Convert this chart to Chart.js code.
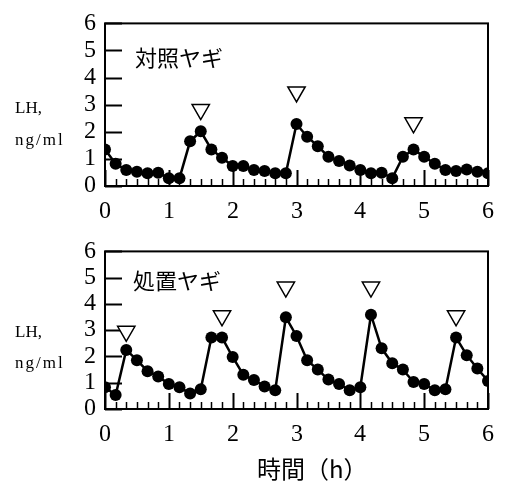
<!DOCTYPE html>
<html>
<head>
<meta charset="utf-8">
<script src="https://cdn.jsdelivr.net/npm/chart.js@4"></script>
<style>
  @font-face { font-family: "TickSerif"; src: local("Liberation Serif"), local("LiberationSerif"), local("LiberationSerif-Regular"), local("Times New Roman"); }
  body { margin: 0; background: #fff; }
  #wrap { position: relative; width: 505px; height: 484px; }
  canvas { position: absolute; left: 0; }
  .lab { position: absolute; font-family: "Liberation Serif", "Times New Roman", serif; font-size: 17px; color: #000; line-height: 17px; }
  .unit { letter-spacing: 2px; }
  #xtitle { position: absolute; left: 257px; top: 455px; font-family: "Noto Sans CJK JP", sans-serif; font-size: 24px; line-height: 26px; color: #000; }
</style>
</head>
<body>
<div id="wrap">
  <canvas id="topChart" width="505" height="228" style="top:0"></canvas>
  <canvas id="bottomChart" width="505" height="256" style="top:228px"></canvas>
  <div class="lab" style="left:15px; top:99px">LH,</div>
  <div class="lab unit" style="left:15px; top:131px">ng/ml</div>
  <div class="lab" style="left:15px; top:323px">LH,</div>
  <div class="lab unit" style="left:15px; top:354px">ng/ml</div>
  <div id="xtitle">時間（h）</div>
</div>
<script>
// sampling times (minutes), every 10 min
const sampleMinutes = [0, 10, 20, 30, 40, 50, 60, 70, 80, 90, 100, 110, 120, 130, 140, 150, 160, 170, 180,
  190, 200, 210, 220, 230, 240, 250, 260, 270, 280, 290, 300, 310, 320, 330, 340, 350, 360];

// 対照ヤギ LH (ng/ml)
const controlLH = [1.35, 0.82, 0.59, 0.53, 0.47, 0.49, 0.29, 0.29, 1.65, 2.02, 1.35, 1.04, 0.74, 0.74,
  0.59, 0.55, 0.47, 0.47, 2.29, 1.82, 1.47, 1.08, 0.92, 0.76, 0.59, 0.47, 0.49, 0.29, 1.08, 1.35,
  1.08, 0.82, 0.59, 0.55, 0.61, 0.53, 0.47];

// 処置ヤギ LH (ng/ml)
const treatedLH = [0.83, 0.53, 2.25, 1.86, 1.44, 1.24, 0.95, 0.83, 0.59, 0.75, 2.72, 2.72, 1.98, 1.30,
  1.10, 0.86, 0.71, 3.49, 2.78, 1.86, 1.50, 1.12, 0.95, 0.71, 0.83, 3.59, 2.31, 1.74, 1.50, 1.03,
  0.95, 0.71, 0.75, 2.72, 2.05, 1.54, 1.07];

// pulse markers (▽)
const controlPulseMin = [90, 180, 290];
const controlPulseY = [2.82, 3.47, 2.33];
const treatedPulseMin = [20, 110, 170, 250, 330];
const treatedPulseY = [2.96, 3.55, 4.64, 4.64, 3.55];

const xTickLabels = [0, 1, 2, 3, 4, 5, 6];
const yTickLabels = [0, 1, 2, 3, 4, 5, 6];

const serif = 'TickSerif, "Times New Roman", serif';

// 枠と内向きの目盛りを描く
const frameTicks = {
    id: 'frameTicks',
    beforeDatasetsDraw(chart, args, opts) {
        const { ctx, chartArea: a, scales } = chart;
        ctx.save();
        ctx.strokeStyle = '#000';
        ctx.lineWidth = 2;
        ctx.strokeRect(a.left, a.top, a.right - a.left, a.bottom - a.top);
        // y 目盛り
        yTickLabels.forEach(v => {
            const y = Math.round(scales.y.getPixelForValue(v)) + 0.5;
            ctx.beginPath();
            ctx.moveTo(a.left, y);
            ctx.lineTo(a.left + 17, y);
            ctx.stroke();
        });
        // x 目盛り (10分ごと)
        sampleMinutes.forEach(m => {
            const x = Math.round(scales.x.getPixelForValue(m / 60)) + 0.5;
            const major = m % 60 === 0;
            ctx.lineWidth = major ? 2 : 1.5;
            ctx.beginPath();
            ctx.moveTo(x, a.bottom);
            ctx.lineTo(x, a.bottom - (major ? 16 : 7));
            ctx.stroke();
        });
        // パネル名
        if (opts.text) {
            ctx.fillStyle = '#000';
            ctx.font = '22px "Noto Sans CJK JP", sans-serif';
            ctx.textBaseline = 'middle';
            ctx.textAlign = 'left';
            ctx.fillText(opts.text, scales.x.getPixelForValue(opts.x), scales.y.getPixelForValue(opts.y));
        }
        ctx.restore();
    }
};

function makeChart(id, values, pulseMin, pulseY, title, pad, xHeight) {
    const ctx = document.getElementById(id);
    return new Chart(ctx, {
        type: 'line',
        data: {
            datasets: [
                {
                    data: pulseMin.map((m, i) => ({ x: m / 60, y: pulseY[i] })),
                    showLine: false,
                    pointStyle: 'triangle',
                    rotation: 180,
                    pointRadius: 10,
                    pointBorderWidth: 1.5,
                    pointBackgroundColor: '#fff',
                    pointBorderColor: '#000',
                    order: 0
                },
                {
                    data: sampleMinutes.map((m, i) => ({ x: m / 60, y: values[i] })),
                    borderColor: '#000',
                    borderWidth: 2.5,
                    pointRadius: 6,
                    pointBackgroundColor: '#000',
                    pointBorderColor: '#000',
                    pointBorderWidth: 0,
                    tension: 0,
                    order: 1
                }
            ]
        },
        options: {
            responsive: false,
            animation: false,
            layout: { padding: pad },
            plugins: {
                legend: { display: false },
                tooltip: { enabled: false },
                frameTicks: title
            },
            scales: {
                x: {
                    type: 'linear',
                    min: 0, max: 6,
                    afterFit: s => { s.height = xHeight; },
                    afterBuildTicks: s => { s.ticks = xTickLabels.map(v => ({ value: v })); },
                    grid: { display: false, drawTicks: false },
                    border: { display: false },
                    ticks: { color: '#000', padding: 11, autoSkip: false, maxRotation: 0, font: { family: serif, size: 24 } }
                },
                y: {
                    min: 0, max: 6,
                    afterFit: s => { s.width = 105; },
                    afterBuildTicks: s => { s.ticks = yTickLabels.map(v => ({ value: v })); },
                    grid: { display: false, drawTicks: false },
                    border: { display: false },
                    ticks: { color: '#000', padding: 9, autoSkip: false, font: { family: serif, size: 24 } }
                }
            }
        },
        plugins: [frameTicks]
    });
}

function drawAll() {
    makeChart('topChart', controlLH, controlPulseMin, controlPulseY,
        { text: '対照ヤギ', x: 0.47, y: 4.75 }, { top: 17, right: 13, left: 0, bottom: 0 }, 42);
    makeChart('bottomChart', treatedLH, treatedPulseMin, treatedPulseY,
        { text: '処置ヤギ', x: 0.44, y: 4.9 }, { top: 12, right: 13, left: 0, bottom: 0 }, 75);
}

// 数字用セリフ体を読み込んでから描画
document.fonts.load('24px TickSerif', '0123456').then(drawAll, drawAll);
</script>
</body>
</html>
